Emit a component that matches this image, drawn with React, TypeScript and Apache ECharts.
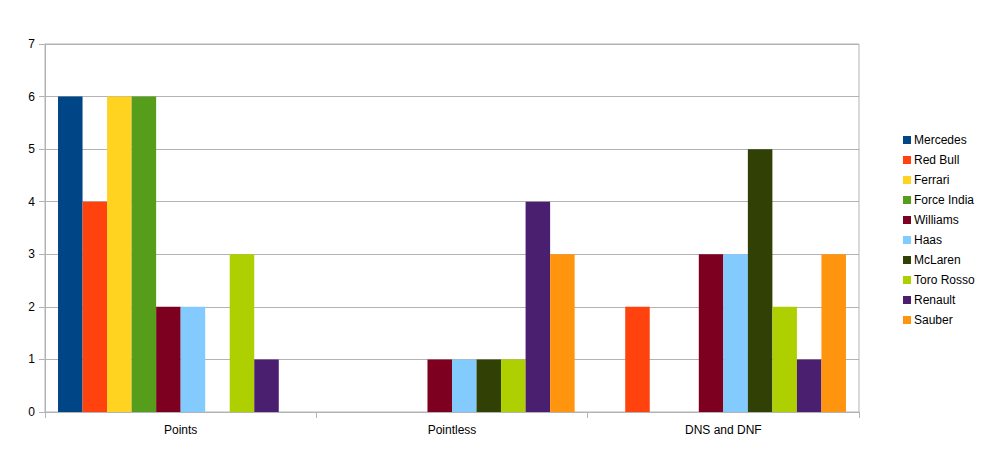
import React, { useEffect, useRef } from "react";
import * as echarts from "echarts";

const categories = ["Points", "Pointless", "DNS and DNF"];
const teams = ["Mercedes", "Red Bull", "Ferrari", "Force India", "Williams", "Haas", "McLaren", "Toro Rosso", "Renault", "Sauber"];
const teamColors = ["#004586", "#ff420e", "#ffd320", "#579d1c", "#7e0021", "#83caff", "#314004", "#aecf00", "#4b1f6f", "#ff950e"];
const mercedes = [6, 0, 0];
const redBull = [4, 0, 2];
const ferrari = [6, 0, 0];
const forceIndia = [6, 0, 0];
const williams = [2, 1, 3];
const haas = [2, 1, 3];
const mclaren = [0, 1, 5];
const toroRosso = [3, 1, 2];
const renault = [1, 4, 1];
const sauber = [0, 3, 3];
const seriesValues = [mercedes, redBull, ferrari, forceIndia, williams, haas, mclaren, toroRosso, renault, sauber];

export default function App() {
  const ref = useRef<HTMLDivElement>(null);
  useEffect(() => {
    document.body.style.margin = "0";
    const chart = echarts.init(ref.current!, null, { renderer: "svg" });
    const font = "'Liberation Sans', Arial, sans-serif";
    chart.setOption({
      animation: false,
      textStyle: { fontFamily: font },
      grid: {
        left: 45,
        right: 123,
        top: 44,
        bottom: 40,
        show: true,
        borderColor: "#b3b3b3",
        borderWidth: 1,
      },
      legend: {
        orient: "vertical",
        left: 898,
        top: 129,
        itemWidth: 8,
        itemHeight: 8,
        itemGap: 8,
        icon: "rect",
        textStyle: { fontSize: 12, color: "#000", fontFamily: font, padding: [0, 0, 0, -2] },
        data: teams,
      },
      xAxis: {
        type: "category",
        data: categories,
        axisLine: { lineStyle: { color: "#b3b3b3" } },
        axisTick: { show: true, length: 6, lineStyle: { color: "#b3b3b3" } },
        axisLabel: { color: "#000", fontSize: 12, margin: 12, fontFamily: font },
      },
      yAxis: {
        type: "value",
        min: 0,
        max: 7,
        interval: 1,
        axisLine: { show: true, lineStyle: { color: "#b3b3b3" } },
        axisTick: { show: true, length: 6, lineStyle: { color: "#b3b3b3" } },
        axisLabel: { color: "#000", fontSize: 12, margin: 10, fontFamily: font },
        splitLine: { show: true, lineStyle: { color: "#b3b3b3" } },
      },
      series: teams.map((name, i) => ({
        name,
        type: "bar",
        data: seriesValues[i],
        itemStyle: { color: teamColors[i] },
        barGap: "0%",
        barCategoryGap: "9.6%",
      })),
    });
    return () => chart.dispose();
  }, []);
  return <div ref={ref} style={{ position: "absolute", left: 0, top: 0, width: 982, height: 452 }} />;
}
